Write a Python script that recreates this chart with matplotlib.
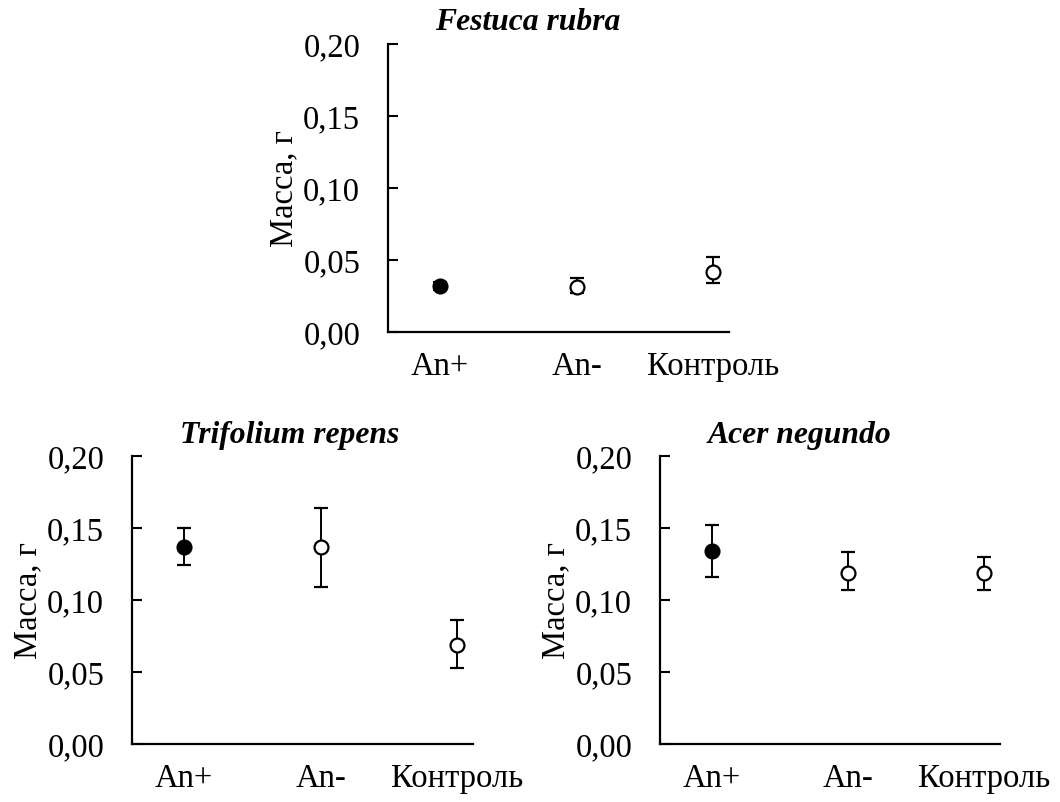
import matplotlib
matplotlib.use("Agg")
import matplotlib.pyplot as plt
import matplotlib.transforms as mtransforms

plt.rcParams['font.family'] = ['Liberation Serif', 'DejaVu Serif']

categories = ["An+", "An-", "Контроль"]
species = ["Festuca rubra", "Trifolium repens", "Acer negundo"]

# mean values with lower / upper error
festuca_mean = [0.032, 0.031, 0.042]
festuca_err_low = [0.003, 0.004, 0.008]
festuca_err_high = [0.003, 0.0062, 0.010]

trifolium_mean = [0.137, 0.137, 0.069]
trifolium_err_low = [0.013, 0.028, 0.016]
trifolium_err_high = [0.013, 0.027, 0.017]

acer_mean = [0.134, 0.119, 0.119]
acer_err_low = [0.018, 0.012, 0.012]
acer_err_high = [0.018, 0.014, 0.011]

y_ticks = [0.00, 0.05, 0.10, 0.15, 0.20]
y_tick_labels = ["0,00", "0,05", "0,10", "0,15", "0,20"]
y_label = "Масса, г"

FS = 23.5
TITLE_FS = 22.8

fig = plt.figure(figsize=(10.6, 8.03), dpi=100)
W, H = 1060, 803


def add_axes(left_px, top_px, width_px, height_px):
    return fig.add_axes([left_px / W, 1 - (top_px + height_px) / H,
                         width_px / W, height_px / H])


# (axes, title, means, lower err, upper err, title x in axes fraction, title lift in px)
panels = [
    (add_axes(388, 45, 341, 288), species[0], festuca_mean,
     festuca_err_low, festuca_err_high, 0.411, 15),
    (add_axes(132, 457, 341, 288), species[1], trifolium_mean,
     trifolium_err_low, trifolium_err_high, 0.463, 14),
    (add_axes(660, 457, 340, 288), species[2], acer_mean,
     acer_err_low, acer_err_high, 0.409, 14),
]

xs = [1, 2, 3]
for ax, name, means, elow, ehigh, title_x, lift in panels:
    for i, (x, m, lo, hi) in enumerate(zip(xs, means, elow, ehigh)):
        face = "black" if i == 0 else "white"
        ax.errorbar([x], [m], yerr=[[lo], [hi]], fmt="o", ms=10, mfc=face,
                    mec="black", mew=1.6, ecolor="black", elinewidth=1.4,
                    capsize=5, capthick=1.4, zorder=3)
    ax.set_xlim(0.619, 3.117)
    ax.set_ylim(0, 0.20)
    ax.set_yticks(y_ticks)
    ax.set_yticklabels(y_tick_labels)
    ax.set_xticks(xs)
    ax.set_xticklabels(categories)
    ax.tick_params(axis="y", direction="in", length=7, width=1.5, pad=20,
                   labelsize=FS)
    ax.tick_params(axis="x", length=0, pad=13, labelsize=FS)
    for side in ("top", "right"):
        ax.spines[side].set_visible(False)
    for side in ("left", "bottom"):
        ax.spines[side].set_linewidth(1.6)
    ax.set_ylabel(y_label, fontsize=FS, labelpad=3)
    offset = mtransforms.ScaledTranslation(0, lift / 100, fig.dpi_scale_trans)
    ax.text(title_x, 1.0, name, transform=ax.transAxes + offset, ha="center",
            va="baseline", fontsize=TITLE_FS, fontweight="bold",
            fontstyle="italic")

fig.savefig("out.png", dpi=100)
